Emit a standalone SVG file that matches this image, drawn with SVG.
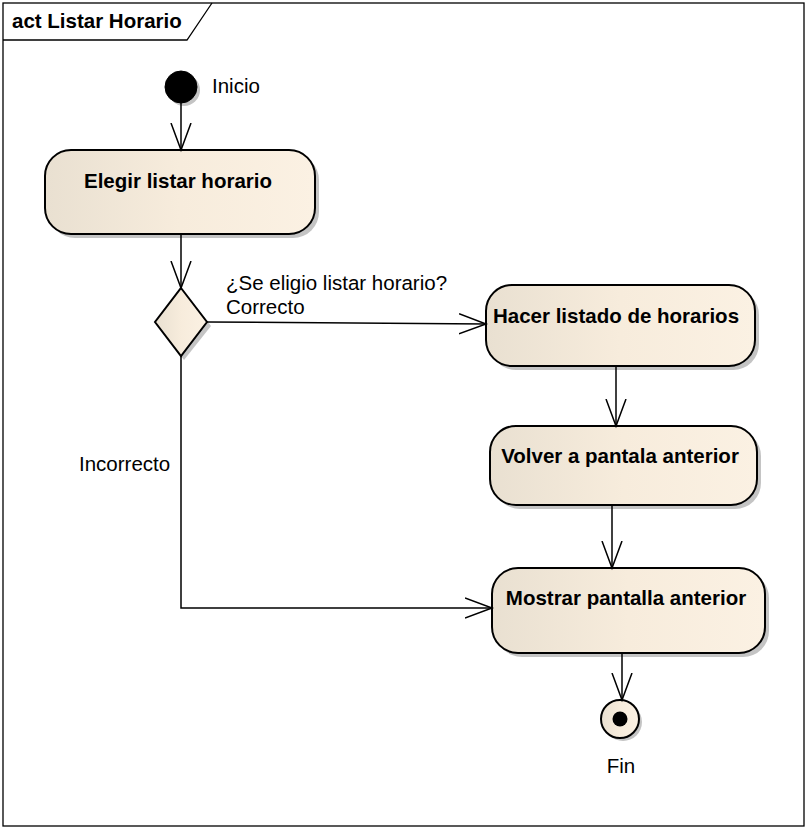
<svg xmlns="http://www.w3.org/2000/svg" width="806" height="828" viewBox="0 0 806 828">
<defs>
<linearGradient id="fill" x1="0" y1="0" x2="1" y2="0">
<stop offset="0" stop-color="#e9e0d1"/>
<stop offset="0.5" stop-color="#f7ecdc"/>
<stop offset="1" stop-color="#fbf1e3"/>
</linearGradient>
<marker id="arr" viewBox="0 0 30 24" refX="27" refY="12" markerWidth="30" markerHeight="24" markerUnits="userSpaceOnUse" orient="auto">
<path d="M0,2 L27,12 L0,22" fill="none" stroke="#000" stroke-width="1.5"/>
</marker>
</defs>
<style>
.frame{fill:#fff;stroke:#000;stroke-width:1.3}
.act{fill:url(#fill);stroke:#000;stroke-width:2}
.shadow{fill:#c4c4c4;stroke:none}
.lbl{font-family:"Liberation Sans",Arial,sans-serif;font-size:20.5px;fill:#000}
.bold{font-family:"Liberation Sans",Arial,sans-serif;font-size:20.5px;font-weight:bold;fill:#000}
.edge{fill:none;stroke:#000;stroke-width:1.5;marker-end:url(#arr)}
</style>
<rect x="0" y="0" width="806" height="828" fill="#fff"/>
<g id="frame">
<rect class="frame" x="3" y="3" width="801" height="823"/>
<path d="M3,40 L187,40 L212,3" fill="none" stroke="#000" stroke-width="1.3"/>
<text class="bold" x="12" y="28">act Listar Horario</text>
</g>
<g id="start">
<circle class="shadow" cx="184" cy="90" r="16"/>
<circle cx="181" cy="87" r="16" fill="#000" stroke="#000"/>
<text class="lbl" x="212" y="93">Inicio</text>
</g>
<g id="a1">
<rect class="shadow" x="49" y="154" width="270" height="84" rx="26"/>
<rect class="act" x="45" y="150" width="270" height="84" rx="26"/>
<text class="bold" x="178" y="188" text-anchor="middle">Elegir listar horario</text>
</g>
<g id="decision">
<path class="shadow" d="M184,292 L211,326 L184,360 L158,326 Z"/>
<path class="act" d="M181,288 L207,322 L181,356 L155,322 Z"/>
</g>
<g id="a2">
<rect class="shadow" x="490" y="289" width="269" height="81" rx="26"/>
<rect class="act" x="486" y="285" width="269" height="81" rx="26"/>
<text class="bold" x="616" y="323" text-anchor="middle">Hacer listado de horarios</text>
</g>
<g id="a3">
<rect class="shadow" x="494" y="430" width="267" height="79" rx="26"/>
<rect class="act" x="490" y="426" width="267" height="79" rx="26"/>
<text class="bold" x="620" y="463" text-anchor="middle">Volver a pantala anterior</text>
</g>
<g id="a4">
<rect class="shadow" x="496" y="572" width="273" height="85" rx="26"/>
<rect class="act" x="492" y="568" width="273" height="85" rx="26"/>
<text class="bold" x="626" y="605" text-anchor="middle">Mostrar pantalla anterior</text>
</g>
<g id="end">
<circle class="shadow" cx="623" cy="722" r="19"/>
<circle class="act" cx="620" cy="719" r="19"/>
<circle cx="620" cy="719" r="7.5" fill="#000"/>
<text class="lbl" x="621" y="773" text-anchor="middle">Fin</text>
</g>
<g id="connectors">
<line class="edge" x1="181" y1="103" x2="181" y2="150"/>
<line class="edge" x1="181" y1="234" x2="181" y2="288"/>
<line class="edge" x1="207" y1="322" x2="486" y2="324"/>
<polyline class="edge" points="181,356 181,608 492,608"/>
<line class="edge" x1="616" y1="366" x2="616" y2="426"/>
<line class="edge" x1="612" y1="505" x2="612" y2="568"/>
<line class="edge" x1="622" y1="653" x2="622" y2="700"/>
<text class="lbl" x="226" y="290">¿Se eligio listar horario?</text>
<text class="lbl" x="226" y="314">Correcto</text>
<text class="lbl" x="79" y="471">Incorrecto</text>
</g>
</svg>
